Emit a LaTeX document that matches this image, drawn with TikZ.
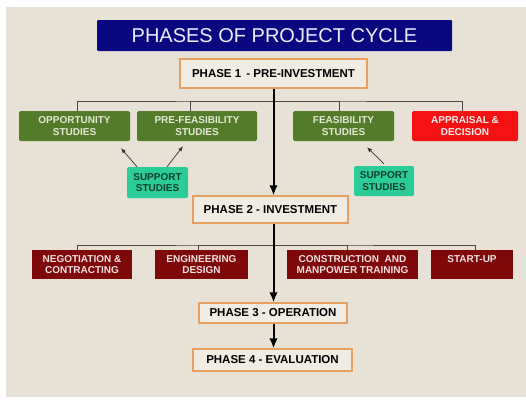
\documentclass[tikz,border=0pt]{standalone}
\usepackage{fontspec}
\setmainfont{Liberation Sans}
\usetikzlibrary{positioning,arrows.meta}
\definecolor{paper}{RGB}{232,226,214}
\definecolor{navy}{RGB}{10,8,128}
\definecolor{phaseline}{RGB}{232,160,96}
\definecolor{phasefill}{RGB}{240,236,228}
\definecolor{studygreen}{RGB}{82,124,42}
\definecolor{apprred}{RGB}{244,18,18}
\definecolor{suppteal}{RGB}{44,204,152}
\definecolor{taskred}{RGB}{126,8,10}
\definecolor{wire}{RGB}{72,72,72}
\tikzset{
	boxbase/.style={inner sep=0pt, align=center, font=\bfseries\fontsize{10}{11.5}\selectfont},
	phase/.style={boxbase, draw=phaseline, line width=1.2pt, fill=phasefill, font=\bfseries\fontsize{11.5}{13}\selectfont},
	study/.style={boxbase, rounded corners=1.5pt, fill=studygreen, text={rgb,255:red,228;green,232;blue,214}},
	decide/.style={boxbase, rounded corners=1.5pt, fill=apprred, text={rgb,255:red,255;green,236;blue,236}},
	support/.style={boxbase, rounded corners=1.5pt, fill=suppteal, text={rgb,255:red,16;green,64;blue,44}},
	task/.style={boxbase, fill=taskred, text={rgb,255:red,240;green,226;blue,222}},
	bus/.style={draw=wire, line width=0.8pt},
	flow/.style={draw=black, line width=2pt, -{Latex[length=10pt,width=8.5pt]}},
	hint/.style={draw=black!80, line width=0.7pt, -{Latex[length=5pt,width=4pt]}}
}
\newcommand{\paperback}{\fill[paper] (6,7) rectangle (526,397);}
\begin{document}
\begin{tikzpicture}
				\useasboundingbox (0,0) rectangle (526pt,-399pt);
				\begin{scope}[x=1pt, y=-1pt]
					\paperback

					\node[fill=navy, rounded corners=1pt, minimum width=355pt, minimum height=31pt, text={rgb,255:red,236;green,236;blue,255}, font=\fontsize{20}{22}\selectfont] (title) at (274.5,35.5) {PHASES OF PROJECT CYCLE};

					\node[phase, minimum width=187pt, minimum height=29pt] (phaseone) at (273.5,73.5) {PHASE 1 \,- PRE-INVESTMENT};

					\node[study, minimum width=111pt, minimum height=30pt] (opp) at (74.5,126) {OPPORTUNITY\\STUDIES};
					\node[study, minimum width=120pt, minimum height=30pt] (prefeas) at (197,126) {PRE-FEASIBILITY\\STUDIES};
					\node[study, minimum width=101pt, minimum height=30pt] (feas) at (343.5,126) {FEASIBILITY\\STUDIES};
					\node[decide, minimum width=106pt, minimum height=30pt] (appr) at (465,126) {APPRAISAL \&\\DECISION};

					\node[support, minimum width=61pt, minimum height=31pt] (suppleft) at (157.5,182.5) {SUPPORT\\STUDIES};
					\node[support, minimum width=60pt, minimum height=30pt] (suppright) at (384,181) {SUPPORT\\STUDIES};

					\node[phase, minimum width=155pt, minimum height=27pt] (phasetwo) at (270.5,209.5) {PHASE 2 - INVESTMENT};

					\node[task, minimum width=100pt, minimum height=29pt] (nego) at (82,264.5) {NEGOTIATION \&\\CONTRACTING};
					\node[task, minimum width=93pt, minimum height=29pt] (engi) at (201.5,264.5) {ENGINEERING\\DESIGN};
					\node[task, minimum width=131pt, minimum height=29pt] (cons) at (352.5,264.5) {CONSTRUCTION \ AND\\MANPOWER TRAINING};
					\node[task, minimum width=82pt, minimum height=29pt] (start) at (472,264.5) {START-UP\\\mbox{}};

					\node[phase, minimum width=148pt, minimum height=20pt] (phasethree) at (273,313) {PHASE 3 - OPERATION};
					\node[phase, minimum width=159pt, minimum height=22pt] (phasefour) at (272.5,360) {PHASE 4 - EVALUATION};

					\coordinate (busone) at (273,101);
					\coordinate (bustwo) at (273,245);

					\draw[bus] ([xshift=2.5pt]opp.north) |- (busone) -| ([xshift=-3pt]appr.north);
					\draw[bus] ([xshift=-7pt]prefeas.north) |- (busone);
					\draw[bus] ([xshift=-4.5pt]feas.north) |- (busone);

					\draw[bus] ([xshift=-5pt]nego.north) |- (bustwo) -| ([xshift=3pt]start.north);
					\draw[bus] ([xshift=-3.5pt]engi.north) |- (bustwo);
					\draw[bus] ([xshift=-5.5pt]cons.north) |- (bustwo);

					\draw[flow] (phaseone.south) -- (phaseone.south |- phasetwo.north);
					\draw[flow] (phaseone.south |- phasetwo.south) -- (phaseone.south |- phasethree.north);
					\draw[flow] (phaseone.south |- phasethree.south) -- (phaseone.south |- phasefour.north);

					\draw[hint] ([xshift=-20.5pt]suppleft.north) -- ([xshift=46.5pt, yshift=-7pt]opp.south);
					\draw[hint] ([xshift=9.5pt]suppleft.north) -- ([xshift=-14pt, yshift=-5pt]prefeas.south);
					\draw[hint] ([yshift=2pt]suppright.north) -- ([xshift=23.5pt, yshift=-6pt]feas.south);
				\end{scope}
\end{tikzpicture}
\end{document}
